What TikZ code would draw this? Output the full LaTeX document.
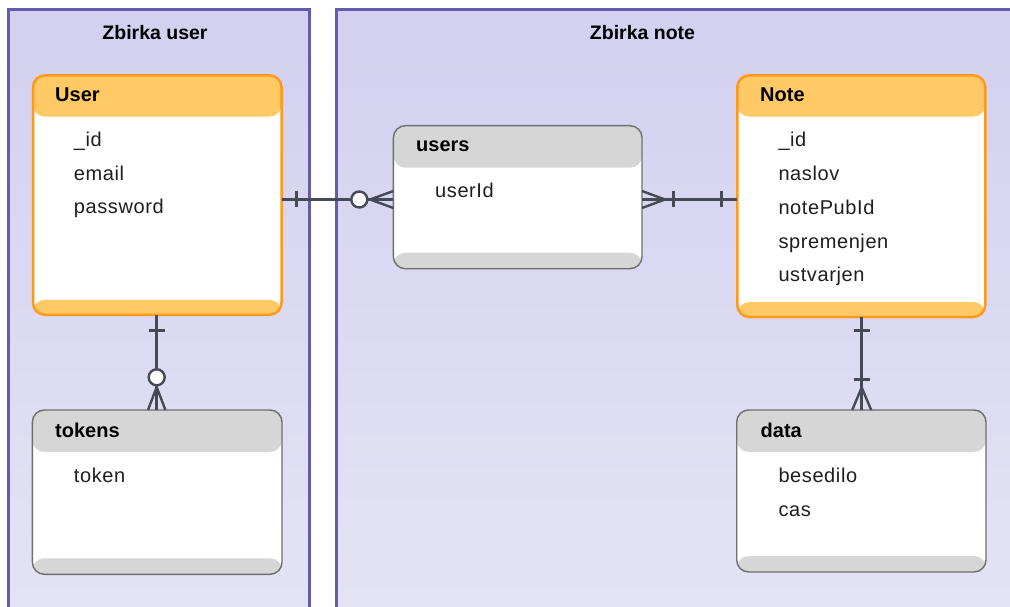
\documentclass[tikz,border=0pt]{standalone}
\usepackage{fontspec}
\setmainfont{Liberation Sans}
\newfontfamily\attrfont[LetterSpace=3]{Liberation Sans}
\definecolor{contborder}{RGB}{98,92,170}
\definecolor{conttop}{RGB}{211,208,240}
\definecolor{contbot}{RGB}{229,228,245}
\definecolor{orfill}{RGB}{255,201,102}
\definecolor{orline}{RGB}{255,153,28}
\definecolor{grfill}{RGB}{214,214,214}
\definecolor{grline}{RGB}{110,110,110}
\definecolor{connc}{RGB}{70,74,84}
\definecolor{attrc}{RGB}{30,30,30}
\begin{document}
\begin{tikzpicture}[x=1pt,y=-1pt,
  entity/.style={rectangle, rounded corners=12pt, fill=white, anchor=north west,
    inner sep=0pt, outer sep=0pt},
  bands/.style args={#1/#2/#3}{path picture={
    \fill[#1] (path picture bounding box.north west) rectangle ([yshift=-#2]path picture bounding box.north east);
    \fill[#1] (path picture bounding box.south west) rectangle ([yshift=#3]path picture bounding box.south east);}},
  orentity/.style={entity, draw=orline, line width=2.5pt, bands=orfill/41.4pt/15pt},
  grentity/.style={entity, draw=grline, line width=1.4pt, bands=grfill/42pt/16pt},
  ctitle/.style={anchor=base, inner sep=0pt, font=\fontsize{19.5}{22}\selectfont\bfseries, text=black},
  ename/.style={anchor=base west, inner sep=0pt, font=\fontsize{20}{24}\selectfont\bfseries, text=black},
  attr/.style={anchor=base west, inner sep=0pt, font=\fontsize{20}{24}\selectfont\attrfont, text=attrc},
  conn/.style={draw=connc, line width=3pt},
  connthin/.style={draw=connc, line width=2.4pt}
]
\useasboundingbox (0,0) rectangle (1010,607);
\clip (0,0) rectangle (1010,607);

% containers
\shade[top color=conttop, bottom color=contbot] (8.7,10) rectangle (309.5,640);
\draw[contborder, line width=3pt] (8.7,640) -- (8.7,10) -- (309.5,10) -- (309.5,640);
\shade[top color=conttop, bottom color=contbot] (336,10) rectangle (1030,640);
\draw[contborder, line width=3pt] (336,640) -- (336,10) -- (1030,10);
\node[ctitle] (t1) at (155,40) {Zbirka user};
\node[ctitle] (t2) at (642.5,40) {Zbirka note};

% entities
\node[orentity, minimum width=248.5pt, minimum height=239.5pt] (User) at (33,75.3) {};
\node[orentity, minimum width=248pt, minimum height=241.7pt] (Note) at (737.3,75.3) {};
\node[grentity, minimum width=248.6pt, minimum height=143pt] (users) at (393.4,125.7) {};
\node[grentity, minimum width=249.6pt, minimum height=164.3pt] (tokens) at (32.4,410) {};
\node[grentity, minimum width=249.3pt, minimum height=162pt] (data) at (736.7,410) {};

% names
\node[ename] (nUser) at (55,102) {User};
\node[ename] (nNote) at (760,102) {Note};
\node[ename] (nusers) at (416,152) {users};
\node[ename] (ntokens) at (55,437) {tokens};
\node[ename] (ndata) at (760.5,437) {data};

% attributes
\node[attr] (u1) at (73.7,147) {\_id};
\node[attr] (u2) at (73.7,180.5) {email};
\node[attr] (u3) at (73.7,214) {password};
\node[attr] (n1) at (778.3,147) {\_id};
\node[attr] (n2) at (778.3,181) {naslov};
\node[attr] (n3) at (778.3,214.5) {notePubId};
\node[attr] (n4) at (778.3,248) {spremenjen};
\node[attr] (n5) at (778.3,281.5) {ustvarjen};
\node[attr] (s1) at (435,197) {userId};
\node[attr] (k1) at (73.7,482.7) {token};
\node[attr] (d1) at (778.3,482.7) {besedilo};
\node[attr] (d2) at (778.3,516) {cas};

% connectors
\coordinate (yl) at (0,199.5);
\coordinate (xl1) at (156.7,0);
\coordinate (xl2) at (861.7,0);

% User -- users
\draw[conn] (User.east |- yl) -- (users.west |- yl);
\draw[conn] (296,191.5) -- (296,207.5);
\draw[connthin] (393.4,191) -- (370,199.5) -- (393.4,208);
\draw[connthin, fill=white] (359.3,199.5) circle (8pt);

% users -- Note
\draw[conn] (users.east |- yl) -- (Note.west |- yl);
\draw[connthin] (642,191) -- (665,199.5) -- (642,208);
\draw[conn] (673.3,191.5) -- (673.3,207.5);
\draw[conn] (721.7,191.5) -- (721.7,207.5);

% User -- tokens
\draw[conn] (xl1 |- User.south) -- (xl1 |- tokens.north);
\draw[conn] (148.5,330) -- (164.9,330);
\draw[connthin] (148,410) -- (156.7,387) -- (165.4,410);
\draw[connthin, fill=white] (156.7,377.3) circle (8pt);

% Note -- data
\draw[conn] (xl2 |- Note.south) -- (xl2 |- data.north);
\draw[conn] (853.5,330) -- (869.9,330);
\draw[conn] (853.5,379) -- (869.9,379);
\draw[connthin] (852.2,410) -- (861.7,387.5) -- (871.2,410);
\end{tikzpicture}
\end{document}
